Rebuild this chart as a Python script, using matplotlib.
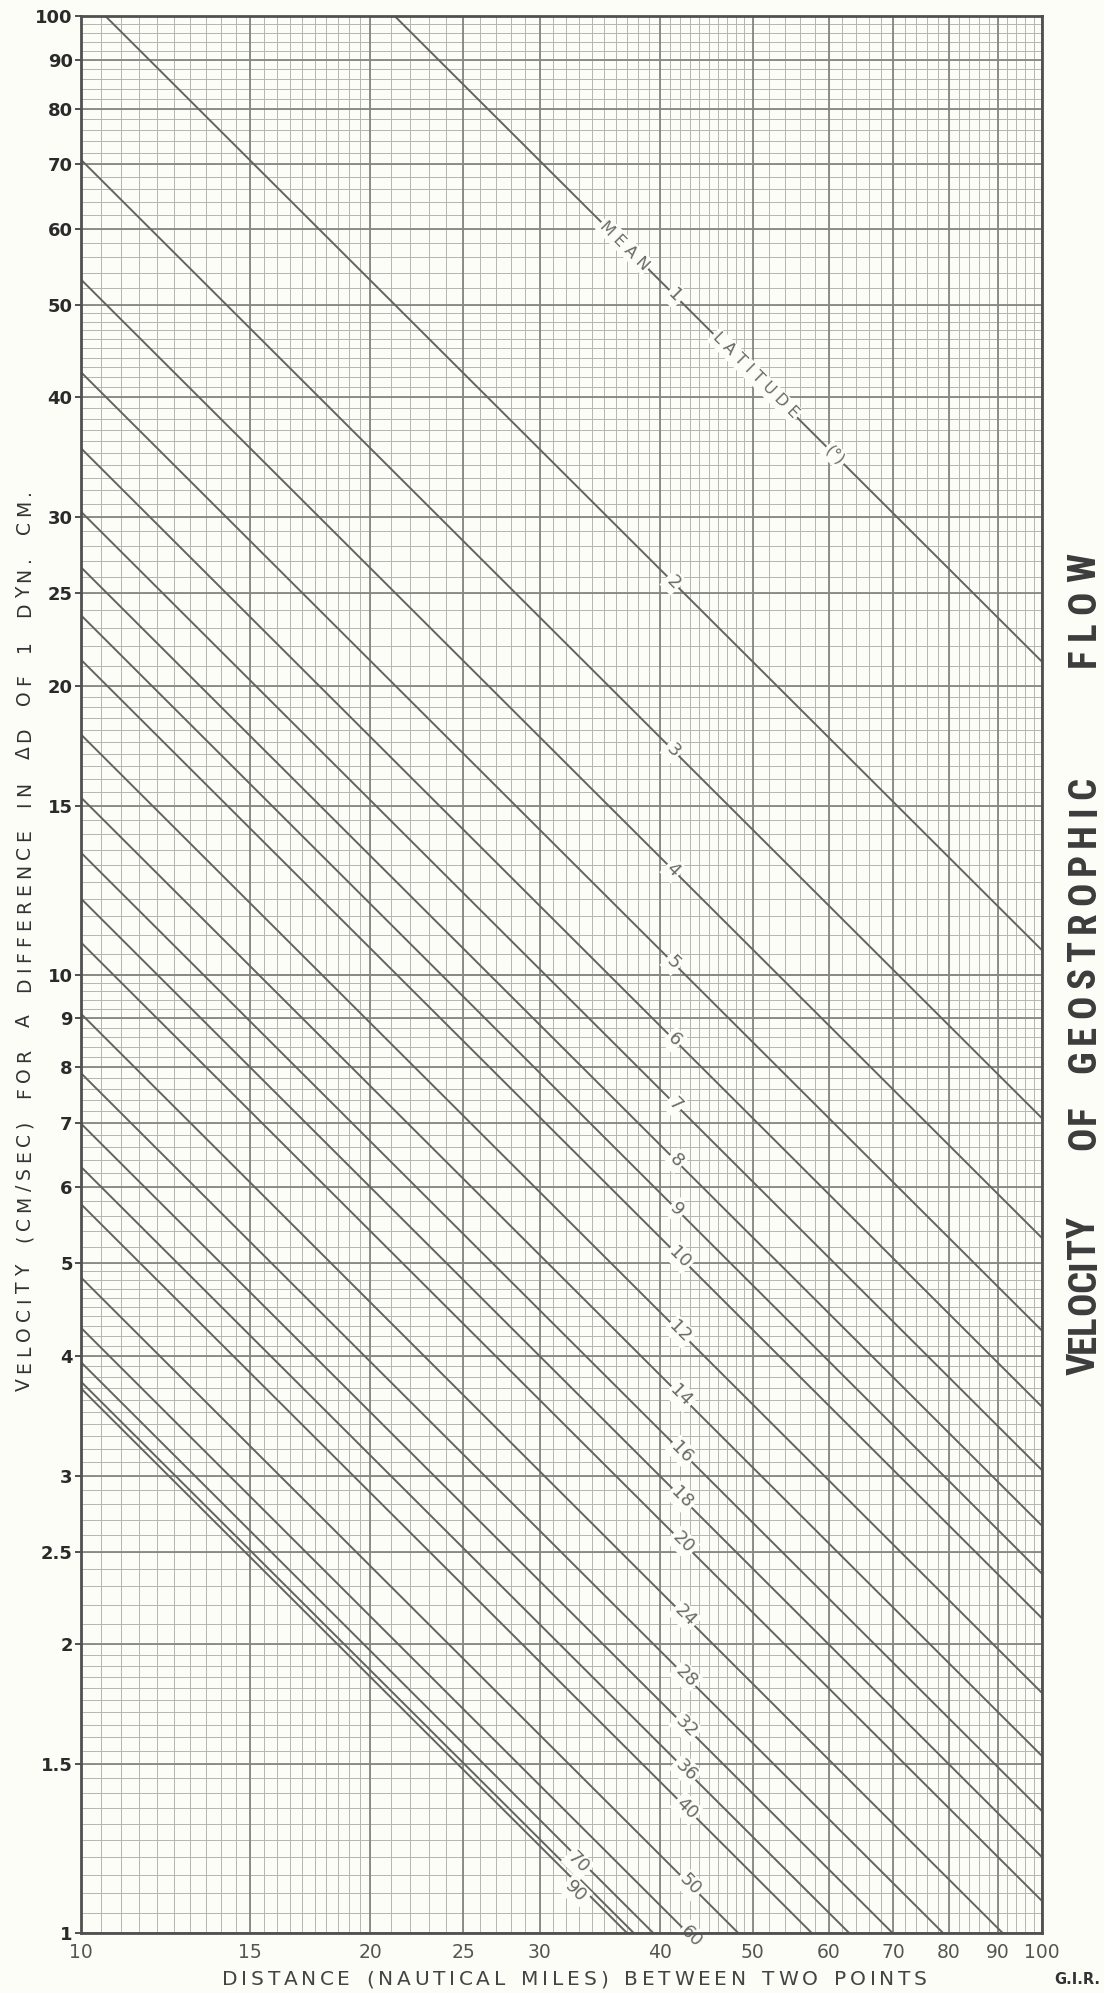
import numpy as np
import matplotlib
matplotlib.use("Agg")
import matplotlib.pyplot as plt
from matplotlib import font_manager as fm
from matplotlib.font_manager import FontProperties
from matplotlib.transforms import offset_copy

# ---------------- data ----------------
latitudes = [1, 2, 3, 4, 5, 6, 7, 8, 9, 10, 12, 14, 16, 18, 20, 24, 28, 32, 36, 40, 50, 60, 70, 80, 90]
# velocity (cm/s) where each latitude line meets distance = 10 and distance = 100 nautical miles
vel_at_10nm = [212, 106, 70.8, 53.1, 42.5, 35.4, 30.4, 26.6, 23.7, 21.3, 17.8, 15.3, 13.4,
               12.0, 10.8, 9.10, 7.89, 6.99, 6.30, 5.76, 4.83, 4.28, 3.94, 3.76, 3.70]
vel_at_100nm = [21.2, 10.6, 7.08, 5.31, 4.25, 3.54, 3.04, 2.66, 2.37, 2.13, 1.78, 1.53, 1.34,
                1.20, 1.08, 0.910, 0.789, 0.699, 0.630, 0.576, 0.483, 0.428, 0.394, 0.376, 0.370]
line_labels = ["1", "2", "3", "4", "5", "6", "7", "8", "9", "10", "12", "14", "16", "18", "20",
               "24", "28", "32", "36", "40", "50", "60", "70", "", "90"]
distance_ends = [10, 100]

x_ticks = [10, 15, 20, 25, 30, 40, 50, 60, 70, 80, 90, 100]
x_ticklabels = ["10", "15", "20", "25", "30", "40", "50", "60", "70", "80", "90", "100"]
y_ticks = [1, 1.5, 2, 2.5, 3, 4, 5, 6, 7, 8, 9, 10, 15, 20, 25, 30, 40, 50, 60, 70, 80, 90, 100]
y_ticklabels = ["1", "1.5", "2", "2.5", "3", "4", "5", "6", "7", "8", "9", "10", "15", "20", "25",
                "30", "40", "50", "60", "70", "80", "90", "100"]

# ---------------- layout / style ----------------
W, H = 1104, 1993
BG = "#fdfdf8"
fig = plt.figure(figsize=(W / 100, H / 100), dpi=100, facecolor=BG)
L, R, T, B = 81, 1042, 16, 1933
ax = fig.add_axes([L / W, 1 - B / H, (R - L) / W, (B - T) / H])
ax.set_facecolor(BG)
ax.set_xscale("log")
ax.set_yscale("log")
ax.set_xlim(10, 100)
ax.set_ylim(1, 100)

# log-paper grid
xminor = np.concatenate([np.arange(10, 20, 0.5), np.arange(20, 50, 1.0), np.arange(50, 100.01, 2.0)])
ydec = np.concatenate([np.arange(1, 2, 0.05), np.arange(2, 5, 0.1), np.arange(5, 10.001, 0.2)])
yminor = np.concatenate([ydec, ydec * 10])
minor_c, minor_lw = "#b4b4b0", 0.7
major_c, major_lw = "#868683", 1.3
for xv in xminor:
    ax.axvline(xv, color=minor_c, lw=minor_lw, zorder=1)
for yv in yminor:
    ax.axhline(yv, color=minor_c, lw=minor_lw, zorder=1)
for xv in x_ticks:
    ax.axvline(xv, color=major_c, lw=major_lw, zorder=1.5)
for yv in y_ticks:
    ax.axhline(yv, color=major_c, lw=major_lw, zorder=1.5)

# latitude lines
line_c = "#636361"
for v10, v100 in zip(vel_at_10nm, vel_at_100nm):
    ax.plot(distance_ends, [v10, v100], color=line_c, lw=1.4, zorder=3, solid_capstyle="butt")

# label positions along lines (distance, nmi) and small vertical pixel offsets
label_x = [41.5, 41.3, 41.3, 41.3, 41.3, 41.4, 41.5, 41.6, 41.7, 42.0, 42.0, 42.1, 42.2, 42.2, 42.3,
           42.5, 42.6, 42.6, 42.6, 42.7, 43.0, 43.2, 32.9, 33.0, 32.7]
label_dy = [0] * 22 + [-5, 0, -10]

angle = -np.degrees(np.arctan(((B - T) / 2.0) / (R - L)))

def y_on_line(i, x):
    return 10 ** np.interp(np.log10(x), np.log10(distance_ends),
                           [np.log10(vel_at_10nm[i]), np.log10(vel_at_100nm[i])])

lab_c = "#6a6a68"
for i, txt in enumerate(line_labels):
    if not txt:
        continue
    x = label_x[i]
    tr = offset_copy(ax.transData, fig=fig, x=0, y=label_dy[i], units="dots")
    ax.text(x, y_on_line(i, x), txt, rotation=angle, rotation_mode="anchor", transform=tr,
            ha="center", va="center", fontsize=13, color=lab_c, zorder=5, clip_on=False,
            bbox=dict(boxstyle="square,pad=0.12", fc=BG, ec="none"))

for word, x in [("M E A N", 36.8), ("L A T I T U D E", 50.3), ("(°)", 60.9)]:
    ax.text(x, y_on_line(0, x), word, rotation=angle, rotation_mode="anchor",
            ha="center", va="center", fontsize=11.5, color=lab_c, zorder=5,
            bbox=dict(boxstyle="square,pad=0.12", fc=BG, ec="none"))

# ticks
ax.set_xticks(x_ticks, x_ticklabels)
ax.set_yticks(y_ticks, y_ticklabels)
ax.minorticks_off()
ax.tick_params(axis="x", length=0, pad=7, labelsize=13.5, labelcolor="#555553")
ax.tick_params(axis="y", length=4, width=1.2, color="#333333", pad=2, labelsize=13,
               labelcolor="#2a2a2a")
for t in ax.get_yticklabels():
    t.set_fontweight("bold")

for s in ax.spines.values():
    s.set_color("#505050")
    s.set_linewidth(2.0)
    s.set_zorder(6)

# ---------------- letter-spaced texts ----------------
renderer = fig.canvas.get_renderer()

def spaced(words, s0, s1, c, vertical, fp, color, ratio=4.0):
    """Place words letter-spaced between s0 and s1 (pixels, origin bottom-left).
    c is the baseline coordinate across the text direction."""
    widths = [[renderer.get_text_width_height_descent(ch, fp, ismath=False)[0] for ch in w]
              for w in words]
    total_w = sum(sum(ws) for ws in widths)
    n_l = sum(len(w) - 1 for w in words)
    n_w = len(words) - 1
    denom = n_l + ratio * n_w
    g = (abs(s1 - s0) - total_w) / denom if denom > 0 else 0.0
    s = s0
    for wi, w in enumerate(words):
        for ci, ch in enumerate(w):
            if vertical:
                fig.text(c / W, s / H, ch, rotation=90, rotation_mode="anchor", ha="left",
                         va="baseline", fontproperties=fp, color=color)
            else:
                fig.text(s / W, c / H, ch, ha="left", va="baseline", fontproperties=fp,
                         color=color)
            s += widths[wi][ci]
            if ci < len(w) - 1:
                s += g
        s += ratio * g

fp_y = FontProperties(family="DejaVu Sans", size=13.5)
spaced("VELOCITY (CM/SEC) FOR A DIFFERENCE IN ΔD OF 1 DYN. CM.".split(),
       H - 1391, H - 489, 30, True, fp_y, "#333333", ratio=4.5)

fp_x = FontProperties(family="DejaVu Sans", size=14.5)
spaced("DISTANCE (NAUTICAL MILES) BETWEEN TWO POINTS".split(),
       222, 927, H - 1985, False, fp_x, "#444444", ratio=4.5)

fig.text(1077 / W, 1 - 1979 / H, "G.I.R.", ha="center", va="center", fontsize=10.5,
         color="#333333", fontweight="bold")


def pick_condensed(size):
    cands = [("Roboto Condensed", "normal"), ("Noto Sans", "condensed"),
             ("Noto Sans Condensed", "normal"), ("Open Sans Condensed", "normal"),
             ("Liberation Sans Narrow", "normal"), ("Open Sans", "condensed"),
             ("DejaVu Sans", "condensed")]
    for fam, stretch in cands:
        fp = FontProperties(family=fam, size=size, weight="semibold", stretch=stretch)
        try:
            path = fm.findfont(fp, fallback_to_default=False)
        except ValueError:
            continue
        low = path.lower()
        if "condens" in low or "narrow" in low or "cond" in low:
            return FontProperties(fname=path, size=size)
    return None

fp_t = pick_condensed(28)
if fp_t is None:
    fp_t = FontProperties(family="DejaVu Sans", size=21)
for word, top, bot in [("VELOCITY", 1217, 1375), ("OF", 1105, 1150),
                       ("GEOSTROPHIC", 777, 1073), ("FLOW", 553, 667)]:
    spaced([word], H - bot, H - top, 1095, True, fp_t, "#3c3c3c")

fig.savefig("out.png", dpi=100, facecolor=BG)
